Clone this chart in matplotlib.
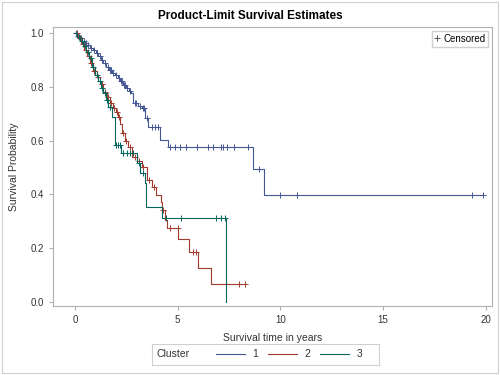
import numpy as np
import matplotlib.pyplot as plt
from matplotlib.lines import Line2D
from matplotlib.patches import Rectangle

plt.rcParams['font.family'] = ['Liberation Sans', 'DejaVu Sans']

# event times (years) and survival estimate after each event, per cluster
times_1 = [0.10, 0.20, 0.35, 0.50, 0.62, 0.75, 0.88, 1.00, 1.12, 1.25, 1.38, 1.52,
           1.66, 1.80, 1.95, 2.08, 2.20, 2.35, 2.50, 2.62, 2.72, 2.84, 3.05, 3.24,
           3.41, 3.57, 4.14, 4.54, 8.65, 9.20]
surv_1 = [0.99, 0.98, 0.97, 0.962, 0.955, 0.945, 0.935, 0.925, 0.915, 0.90, 0.89, 0.875,
          0.862, 0.852, 0.842, 0.832, 0.82, 0.808, 0.795, 0.785, 0.776, 0.739, 0.73, 0.72,
          0.683, 0.652, 0.602, 0.577, 0.494, 0.397]
cens_1 = [0.05, 0.15, 0.25, 0.30, 0.45, 0.55, 0.65, 0.80, 0.95, 1.05, 1.20, 1.30, 1.45,
          1.60, 1.70, 1.75, 1.85, 2.00, 2.15, 2.25, 2.30, 2.40, 2.45, 2.55, 2.70, 2.90,
          2.95, 3.15, 3.30, 3.35, 3.50, 3.73, 3.89, 4.05, 4.62, 4.87, 5.11, 5.40, 5.92,
          6.47, 6.72, 7.09, 7.22, 7.38, 7.75, 8.43, 8.95, 9.98, 10.8, 19.35, 19.84]

times_2 = [0.15, 0.30, 0.45, 0.60, 0.75, 0.89, 1.05, 1.20, 1.38, 1.55, 1.70, 1.86, 2.00,
           2.10, 2.20, 2.27, 2.45, 2.60, 2.76, 3.00, 3.24, 3.49, 3.73, 3.94, 4.18, 4.22,
           4.38, 4.46, 5.03, 5.56, 5.97, 6.60]
surv_2 = [0.98, 0.96, 0.935, 0.915, 0.89, 0.86, 0.835, 0.81, 0.78, 0.76, 0.74, 0.72, 0.705,
          0.689, 0.66, 0.627, 0.60, 0.577, 0.54, 0.525, 0.503, 0.454, 0.429, 0.398, 0.373, 0.342,
          0.305, 0.274, 0.234, 0.187, 0.128, 0.066]
cens_2 = [0.10, 0.25, 0.40, 0.55, 0.70, 0.80, 0.95, 1.10, 1.30, 1.45, 1.60, 1.75, 1.90,
          2.05, 2.15, 2.35, 2.50, 2.70, 2.90, 3.10, 3.30, 3.60, 3.85, 4.30, 4.62, 5.00,
          5.76, 5.90, 8.00, 8.30]

times_3 = [0.12, 0.25, 0.40, 0.55, 0.70, 0.85, 0.97, 1.10, 1.25, 1.38, 1.50, 1.62, 1.79,
           1.95, 2.24, 3.00, 3.16, 3.41, 3.46, 4.22, 7.35]
surv_3 = [0.985, 0.97, 0.95, 0.93, 0.905, 0.875, 0.844, 0.82, 0.795, 0.776, 0.75, 0.726,
          0.689, 0.584, 0.553, 0.516, 0.478, 0.441, 0.352, 0.311, 0.0]
cens_3 = [0.20, 0.35, 0.50, 0.65, 0.80, 0.90, 1.05, 1.20, 1.30, 1.45, 1.55, 1.70, 2.00,
          2.10, 2.18, 2.35, 2.51, 2.68, 2.84, 3.10, 3.30, 4.41, 5.14, 6.85, 7.09, 7.30]

clusters = ['1', '2', '3']
colors = ['#445694', '#A23A2E', '#01665E']
groups = [(times_1, surv_1, cens_1), (times_2, surv_2, cens_2), (times_3, surv_3, cens_3)]

fig = plt.figure(figsize=(5, 3.75), dpi=100)
fig.patches.append(Rectangle((0.004, 0.005), 0.992, 0.99, transform=fig.transFigure,
                             fill=False, edgecolor='#d0d0d0', lw=0.8))
ax = fig.add_axes([0.106, 0.184, 0.878, 0.744])

for (t, s, c), col in zip(groups, colors):
    tt = np.array([0.0] + t)
    ss = np.array([1.0] + s)
    end = max(tt[-1], max(c))
    ax.step(np.append(tt, end), np.append(ss, ss[-1]), where='post', color=col, lw=0.8)
    idx = np.searchsorted(tt, c, side='right') - 1
    ax.plot(c, ss[idx], ls='', marker='+', ms=5, mew=0.7, color=col)

ax.set_xlim(-1.07, 20.3)
ax.set_ylim(-0.015, 1.022)
ax.set_xticks([0, 5, 10, 15, 20])
ax.set_yticks([0.0, 0.2, 0.4, 0.6, 0.8, 1.0])
ax.set_yticklabels(['0.0', '0.2', '0.4', '0.6', '0.8', '1.0'])
for sp in ax.spines.values():
    sp.set_color('#b0b0b0')
    sp.set_linewidth(0.8)
ax.tick_params(colors='#b0b0b0', labelcolor='#333333', labelsize=7, length=3, width=0.8)
ax.set_xlabel('Survival time in years', fontsize=7.5, color='#333333', labelpad=6)
ax.set_ylabel('Survival Probability', fontsize=7.5, color='#333333', labelpad=8)
fig.text(0.5, 0.957, 'Product-Limit Survival Estimates', ha='center', va='center',
         fontsize=8.5, fontweight='bold')

ax.legend(handles=[Line2D([], [], ls='', marker='+', ms=4, mew=0.7, color='#555555')],
          labels=['Censored'], loc='upper right', fontsize=7, handlelength=0.4,
          handletextpad=0.4, borderpad=0.3, fancybox=False, edgecolor='#d0d0d0',
          framealpha=1, borderaxespad=0.4)

# cluster legend below the plot
lg = fig.add_axes([0.304, 0.027, 0.454, 0.056])
lg.set_xlim(0, 1)
lg.set_ylim(0, 1)
lg.set_xticks([])
lg.set_yticks([])
for sp in lg.spines.values():
    sp.set_color('#d0d0d0')
    sp.set_linewidth(0.8)
lg.text(0.02, 0.5, 'Cluster', ha='left', va='center', fontsize=7.5, color='#333333')
for k, (name, col) in enumerate(zip(clusters, colors)):
    x0 = 0.28 + k * 0.23
    lg.plot([x0, x0 + 0.13], [0.5, 0.5], color=col, lw=0.8)
    lg.text(x0 + 0.16, 0.5, name, ha='left', va='center', fontsize=7.5, color='#333333')

fig.savefig('out.png', dpi=100)
